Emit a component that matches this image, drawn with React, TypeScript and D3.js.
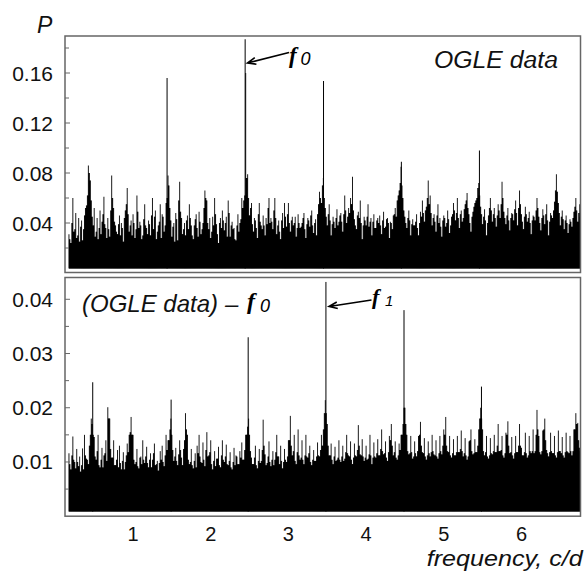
import React from "react";
import * as d3 from "d3";

const W = 587;
const H = 578;

// frequency grid of the periodogram (c/d): main samples and half-step samples
const freqStart = 0.175;
const freqStep = 0.025;

// Top panel (OGLE data): power in units of 0.001, at f = 0.175 + 0.025 k
const topNoise = [
  31, 24, 60, 35, 28, 44, 37, 26, 46, 54, 86, 74, 45, 52, 33, 27, 50, 41, 61, 36,
  44, 29, 78, 52, 38, 31, 46, 40, 25, 50, 68, 33, 42, 47, 28, 62, 36, 38, 30, 55,
  36, 42, 30, 60, 45, 27, 38, 55, 47, 33, 56, 78, 52, 29, 40, 48, 26, 73, 44, 35,
  30, 46, 55, 38, 27, 43, 36, 49, 31, 40, 66, 58, 35, 28, 45, 60, 39, 24, 44, 50,
  34, 45, 58, 29, 41, 36, 26, 47, 40, 60, 58, 160, 79, 46, 56, 33, 42, 28, 56, 38,
  46, 30, 39, 60, 44, 35, 60, 31, 42, 27, 48, 56, 37, 56, 33, 45, 40, 29, 47, 36,
  40, 48, 28, 44, 37, 50, 32, 43, 47, 65, 56, 76, 52, 38, 55, 30, 45, 36, 51, 41,
  48, 33, 62, 40, 52, 60, 77, 43, 35, 49, 58, 27, 45, 38, 55, 41, 30, 47, 36, 44,
  46, 31, 49, 37, 44, 28, 40, 46, 52, 58, 66, 85, 60, 45, 36, 50, 30, 43, 38, 47,
  30, 49, 58, 41, 53, 74, 62, 38, 47, 33, 55, 44, 29, 46, 37, 50, 32, 45, 56, 42,
  60, 36, 50, 44, 55, 64, 47, 33, 49, 56, 60, 72, 53, 39, 51, 30, 46, 60, 41, 52,
  37, 55, 44, 73, 49, 39, 52, 34, 48, 42, 58, 38, 66, 47, 35, 53, 41, 49, 31, 46,
  42, 60, 45, 34, 51, 39, 55, 30, 48, 44, 57, 79, 56, 38, 50, 35, 46, 32, 43, 37,
  49, 60, 41, 55,
];
// Top panel half-step samples, at f = 0.1875 + 0.025 k (units of 0.001)
const topNoiseHalf = [
  27, 40, 33, 48, 30, 25, 42, 35, 52, 62, 80, 58, 38, 29, 44, 36, 31, 47, 39, 28,
  35, 50, 60, 41, 33, 39, 30, 36, 44, 55, 47, 38, 30, 40, 35, 49, 41, 27, 43, 38,
  31, 39, 46, 35, 50, 33, 41, 28, 45, 38, 60, 70, 42, 37, 25, 43, 58, 49, 31, 40,
  42, 35, 44, 30, 38, 47, 29, 41, 35, 52, 60, 40, 44, 33, 38, 47, 31, 40, 36, 42,
  40, 29, 48, 38, 35, 27, 38, 33, 43, 52, 62, 76, 60, 52, 39, 44, 36, 47, 41, 35,
  38, 44, 52, 40, 41, 50, 44, 38, 33, 42, 36, 45, 47, 40, 42, 38, 45, 36, 40, 37,
  44, 35, 39, 42, 46, 38, 40, 30, 55, 60, 70, 60, 45, 47, 42, 39, 41, 44, 38, 46,
  41, 47, 50, 45, 48, 55, 50, 38, 46, 44, 40, 38, 42, 45, 37, 44, 41, 36, 42, 40,
  38, 42, 36, 43, 40, 41, 35, 47, 45, 62, 72, 70, 50, 40, 44, 42, 39, 38, 41, 36,
  40, 45, 48, 50, 60, 55, 48, 44, 41, 46, 40, 37, 42, 44, 40, 43, 38, 47, 50, 48,
  44, 47, 41, 51, 58, 52, 40, 45, 53, 58, 68, 62, 47, 45, 42, 40, 52, 50, 47, 44,
  46, 50, 55, 60, 44, 46, 42, 44, 47, 51, 48, 52, 55, 41, 45, 47, 44, 40, 42, 45,
  50, 52, 40, 44, 46, 47, 42, 41, 46, 50, 66, 65, 48, 45, 43, 42, 40, 39, 41, 44,
  53, 50, 48, 45,
];
const topNoiseUnit = 0.001;

// Bottom panel ((OGLE data) - f0): power in units of 0.0001, at f = 0.175 + 0.025 k
const bottomNoise = [
  116, 86, 147, 100, 124, 92, 82, 125, 150, 106, 96, 150, 170, 146, 104, 150, 90, 126, 112, 140,
  201, 180, 108, 140, 94, 122, 130, 86, 118, 100, 134, 150, 183, 150, 96, 124, 88, 110, 140, 98,
  128, 90, 116, 104, 134, 96, 84, 120, 130, 92, 150, 140, 160, 150, 102, 126, 94, 140, 108, 124,
  190, 150, 96, 124, 88, 116, 130, 150, 100, 136, 92, 155, 112, 140, 86, 120, 106, 128, 90, 140,
  100, 132, 94, 118, 86, 126, 112, 96, 120, 136, 104, 150, 165, 150, 108, 96, 130, 88, 124, 102,
  178, 114, 98, 138, 92, 120, 104, 150, 110, 130, 88, 124, 100, 140, 185, 112, 150, 96, 160, 104,
  140, 96, 150, 108, 130, 94, 122, 102, 136, 110, 150, 160, 214, 170, 112, 134, 96, 128, 104, 140,
  100, 130, 106, 150, 112, 138, 96, 134, 110, 168, 114, 142, 102, 130, 106, 150, 96, 136, 108, 142,
  112, 160, 114, 138, 102, 148, 170, 112, 138, 104, 134, 150, 170, 200, 150, 114, 148, 106, 138, 110,
  148, 174, 118, 144, 104, 138, 110, 150, 114, 140, 106, 148, 114, 160, 183, 120, 148, 108, 142, 112,
  148, 118, 158, 110, 144, 104, 138, 160, 114, 142, 118, 160, 200, 160, 112, 148, 106, 144, 114, 150,
  118, 170, 120, 148, 108, 154, 175, 116, 146, 106, 148, 118, 170, 126, 112, 154, 108, 148, 116, 160,
  120, 196, 148, 114, 158, 180, 122, 110, 154, 116, 148, 108, 158, 120, 146, 108, 154, 118, 148, 112,
  160, 190, 172, 126,
];
// Bottom panel half-step samples, at f = 0.1875 + 0.025 k (units of 0.0001)
const bottomNoiseHalf = [
  96, 112, 104, 88, 100, 110, 94, 86, 112, 104, 130, 180, 150, 110, 120, 94, 104, 90, 116, 102,
  180, 124, 108, 94, 104, 90, 98, 102, 86, 112, 118, 155, 150, 104, 100, 92, 108, 96, 104, 110,
  98, 104, 90, 116, 94, 102, 98, 104, 100, 112, 122, 140, 180, 122, 110, 102, 114, 122, 94, 140,
  160, 104, 100, 94, 102, 90, 116, 110, 98, 104, 122, 110, 118, 96, 102, 92, 106, 94, 112, 104,
  110, 96, 102, 90, 100, 94, 110, 96, 108, 104, 122, 150, 180, 120, 96, 108, 94, 102, 98, 122,
  130, 94, 110, 100, 104, 94, 118, 110, 96, 102, 100, 104, 110, 140, 130, 120, 102, 118, 112, 108,
  104, 112, 110, 116, 100, 104, 102, 110, 112, 122, 130, 190, 190, 130, 112, 104, 110, 102, 108, 104,
  110, 102, 118, 116, 110, 104, 108, 112, 122, 130, 112, 110, 108, 104, 114, 112, 108, 110, 116, 112,
  124, 120, 116, 108, 118, 140, 130, 118, 108, 112, 122, 150, 200, 170, 120, 116, 118, 110, 116, 120,
  150, 130, 116, 110, 112, 116, 118, 120, 112, 110, 116, 120, 130, 150, 130, 118, 112, 116, 112, 118,
  118, 124, 120, 116, 112, 110, 140, 120, 116, 118, 130, 180, 180, 120, 118, 110, 112, 116, 120, 118,
  130, 120, 122, 112, 116, 150, 130, 118, 112, 116, 118, 130, 130, 112, 118, 116, 112, 120, 120, 116,
  150, 160, 118, 120, 160, 140, 116, 118, 120, 116, 112, 118, 120, 116, 112, 118, 120, 116, 120, 120,
  160, 170, 140, 120,
];
const bottomNoiseUnit = 0.0001;

// narrow peaks (thin lines)
const topPeakFreq = [1.438, 2.443, 3.452, 4.454, 5.459];
const topPeakPow = [0.156, 0.187, 0.1536, 0.089, 0.098];
const botPeakFreq = [0.481, 1.49, 2.482, 3.483, 4.488, 5.485];
const botPeakPow = [0.0247, 0.0215, 0.033, 0.0432, 0.038, 0.0239];

// lower edge of the noise band (periodogram minima)
const topFloor = 0.0036;
const botFloor = 0.00085;

const xTicks = [1, 2, 3, 4, 5, 6];
const topYTicks = [0.04, 0.08, 0.12, 0.16];
const topYMinor = [0.02, 0.06, 0.1, 0.14, 0.18];
const botYTicks = [0.01, 0.02, 0.03, 0.04];
const botYMinor = [0.005, 0.015, 0.025, 0.035];

const xDomain: [number, number] = [0.124, 6.76];
const topYDomain: [number, number] = [0, 0.19];
const botYDomain: [number, number] = [0, 0.044];

const L = 65;
const R = 580.5;

const FRAME = "#666";
const SANS = "'Liberation Sans', Arial, sans-serif";
const SERIF = "'Liberation Serif', 'Times New Roman', serif";

function arrowPath(tail: [number, number], tip: [number, number], len = 9, ang = 0.38) {
  const a = Math.atan2(tail[1] - tip[1], tail[0] - tip[0]);
  const p1 = [tip[0] + len * Math.cos(a + ang), tip[1] + len * Math.sin(a + ang)];
  const p2 = [tip[0] + len * Math.cos(a - ang), tip[1] + len * Math.sin(a - ang)];
  return `M${tail[0]},${tail[1]}L${tip[0]},${tip[1]}M${p1[0]},${p1[1]}L${tip[0]},${tip[1]}L${p2[0]},${p2[1]}`;
}

type PanelProps = {
  id: string;
  top: number;
  bottom: number;
  yDomain: [number, number];
  yRange: [number, number];
  noise: number[];
  noiseHalf: number[];
  unit: number;
  floor: number;
  peakFreq: number[];
  peakPow: number[];
  yTicks: number[];
  yMinor: number[];
  fmt: (v: number) => string;
};

function Panel(p: PanelProps) {
  const x = d3.scaleLinear().domain(xDomain).range([L, R]);
  const y = d3.scaleLinear().domain(p.yDomain).range(p.yRange);
  const pts: { f: number; v: number }[] = [];
  p.noise.forEach((v, i) => {
    pts.push({ f: freqStart + i * freqStep, v: v * p.unit });
    if (i < p.noiseHalf.length)
      pts.push({ f: freqStart + (i + 0.5) * freqStep, v: p.noiseHalf[i] * p.unit });
  });
  // solid base: between neighbouring samples, filled up to the lower of the two
  const base = pts.map((d, i) => ({
    f: d.f,
    v: i < pts.length - 1 ? Math.min(d.v, pts[i + 1].v) : d.v,
  }));
  const area = d3
    .area<{ f: number; v: number }>()
    .curve(d3.curveStepAfter)
    .x((d) => x(d.f))
    .y0(() => y(p.floor))
    .y1((d) => y(d.v));
  return (
    <g>
      <defs>
        <clipPath id={p.id}>
          <rect x={L} y={p.top} width={R - L} height={p.bottom - p.top} />
        </clipPath>
      </defs>
      <g clipPath={`url(#${p.id})`}>
        <path d={area(base) || ""} fill="#000" />
        {pts.map((d, i) => (
          <line
            key={"n" + i}
            x1={x(d.f)}
            x2={x(d.f)}
            y1={y(p.floor)}
            y2={y(d.v)}
            stroke="#000"
            strokeWidth={0.9}
          />
        ))}
        {p.peakFreq.map((f, i) => (
          <line
            key={i}
            x1={x(f)}
            x2={x(f)}
            y1={y(p.floor)}
            y2={y(p.peakPow[i])}
            stroke="#000"
            strokeWidth={1}
          />
        ))}
      </g>
      {p.yTicks.map((t) => (
        <g key={"t" + t}>
          <line x1={L} x2={L + 5} y1={y(t)} y2={y(t)} stroke={FRAME} strokeWidth={1} />
          <text
            x={53}
            y={y(t) + 7.5}
            textAnchor="end"
            fontFamily={SANS}
            fontSize={21}
            fill="#111"
          >
            {p.fmt(t)}
          </text>
        </g>
      ))}
      {p.yMinor.map((t) => (
        <line key={"m" + t} x1={L} x2={L + 4} y1={y(t)} y2={y(t)} stroke={FRAME} strokeWidth={1} />
      ))}
      <rect
        x={L}
        y={p.top}
        width={R - L}
        height={p.bottom - p.top}
        fill="none"
        stroke={FRAME}
        strokeWidth={1.5}
      />
    </g>
  );
}

export default function App() {
  const x = d3.scaleLinear().domain(xDomain).range([L, R]);
  return (
    <svg
      width={W}
      height={H}
      viewBox={`0 0 ${W} ${H}`}
      style={{ position: "absolute", left: 0, top: 0, background: "#fff" }}
    >
      <rect x={0} y={0} width={W} height={H} fill="#fff" />
      <Panel
        id="clipTop"
        top={36}
        bottom={272.5}
        yDomain={topYDomain}
        yRange={[273, 35.5]}
        noise={topNoise}
        noiseHalf={topNoiseHalf}
        unit={topNoiseUnit}
        floor={topFloor}
        peakFreq={topPeakFreq}
        peakPow={topPeakPow}
        yTicks={topYTicks}
        yMinor={topYMinor}
        fmt={d3.format(".2f")}
      />
      <Panel
        id="clipBot"
        top={277.5}
        bottom={516.2}
        yDomain={botYDomain}
        yRange={[516.2, 277.6]}
        noise={bottomNoise}
        noiseHalf={bottomNoiseHalf}
        unit={bottomNoiseUnit}
        floor={botFloor}
        peakFreq={botPeakFreq}
        peakPow={botPeakPow}
        yTicks={botYTicks}
        yMinor={botYMinor}
        fmt={d3.format(".2f")}
      />
      {xTicks.map((t) => (
        <text
          key={t}
          x={x(t)}
          y={541}
          textAnchor="middle"
          fontFamily={SANS}
          fontSize={20}
          fill="#111"
        >
          {t}
        </text>
      ))}
      <text
        x={426.7}
        y={566}
        fontFamily={SANS}
        fontStyle="italic"
        fontSize={22}
        textLength={156}
        lengthAdjust="spacingAndGlyphs"
        fill="#111"
      >
        frequency, c/d
      </text>
      <text x={37} y={33} fontFamily={SANS} fontStyle="italic" fontSize={23} fill="#111">
        P
      </text>
      <text
        x={434}
        y={68}
        fontFamily={SANS}
        fontStyle="italic"
        fontSize={23}
        textLength={124}
        lengthAdjust="spacingAndGlyphs"
        fill="#111"
      >
        OGLE data
      </text>
      {/* f0 annotation */}
      <path d={arrowPath([289, 52.5], [247.5, 63])} fill="none" stroke="#000" strokeWidth={1.6} />
      <text x={289} y={62.5} fontFamily={SERIF} fontStyle="italic" fontWeight="bold" fontSize={23} fill="#000">
        f
      </text>
      <text x={300.5} y={65} fontFamily={SANS} fontStyle="italic" fontSize={18} fill="#000">
        0
      </text>
      {/* bottom panel label */}
      <text
        x={82}
        y={311.5}
        fontFamily={SANS}
        fontStyle="italic"
        fontSize={24}
        textLength={136}
        lengthAdjust="spacingAndGlyphs"
        fill="#111"
      >
        (OGLE data)
      </text>
      <text x={225} y={311.5} fontFamily={SANS} fontStyle="italic" fontSize={24} fill="#111">
        –
      </text>
      <text x={247} y={309} fontFamily={SERIF} fontStyle="italic" fontWeight="bold" fontSize={24} fill="#000">
        f
      </text>
      <text x={260} y={312} fontFamily={SANS} fontStyle="italic" fontSize={18} fill="#000">
        0
      </text>
      {/* f1 annotation */}
      <path d={arrowPath([371.5, 300], [329, 306.5])} fill="none" stroke="#000" strokeWidth={1.6} />
      <text x={372} y={304} fontFamily={SERIF} fontStyle="italic" fontWeight="bold" fontSize={22} fill="#000">
        f
      </text>
      <text x={385} y={305.5} fontFamily={SANS} fontStyle="italic" fontSize={15} fill="#000">
        1
      </text>
    </svg>
  );
}
